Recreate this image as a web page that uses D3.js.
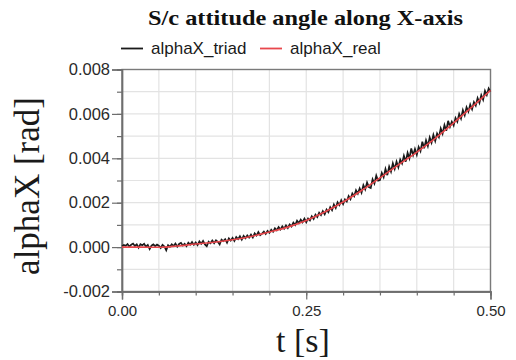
<!DOCTYPE html>
<html>
<head>
<meta charset="utf-8">
<script src="https://cdn.jsdelivr.net/npm/d3@7"></script>
<style>
  html, body { margin: 0; padding: 0; background: #fff; }
  svg { display: block; }
</style>
</head>
<body>
<svg id="chart" width="516" height="360"></svg>
<script>
// ---- data ----
const chartTitle = "S/c attitude angle along X-axis";
const xTitle = "t [s]";
const yTitle = "alphaX [rad]";
const seriesNames = ["alphaX_triad", "alphaX_real"];

const xTickValues = [0, 0.25, 0.5];
const xTickLabels = ["0.00", "0.25", "0.50"];
const yTickValues = [-0.002, 0, 0.002, 0.004, 0.006, 0.008];
const yTickLabels = ["-0.002", "0.000", "0.002", "0.004", "0.006", "0.008"];

// alphaX_real sampled every 0.025 s
const realT = [0, 0.025, 0.05, 0.075, 0.1, 0.125, 0.15, 0.175, 0.2, 0.225, 0.25,
  0.275, 0.3, 0.325, 0.35, 0.375, 0.4, 0.425, 0.45, 0.475, 0.5];
const realV = [0, 0, -0.00001, 0.00005, 0.00014, 0.00022, 0.00033, 0.00048, 0.00068, 0.00090, 0.00120,
  0.00158, 0.00203, 0.00255, 0.00312, 0.00370, 0.00428, 0.00490, 0.00560, 0.00632, 0.00706];

// alphaX_triad, one sample every 0.0025 s, values in units of 1e-4 rad
const triadStep = 0.0025;
const triadUnit = 1e-4;
const triadV = [
  0.3, 1.0, 0.6, 1.4, 0.2, 1.1, 1.6, 0.5, 1.2, -0.3,
  1.3, 0.8, 1.5, 0.2, 1.0, -0.9, 0.7, 1.2, 0.4, 1.1,
  0.6, -0.4, 1.0, 0.3, -1.4, 0.9, 0.2, 1.3, 0.5, 1.6,
  0.2, 1.4, 1.9, 0.7, 1.5, 0.4, 2.0, 1.1, 2.3, 1.0,
  2.1, 0.9, 2.6, 1.5, 2.8, 1.2, 0.4, 2.4, 1.7, 3.0,
  1.8, 3.1, 2.4, 1.2, 3.4, 2.7, 3.6, 2.0, 3.9, 2.9,
  4.2, 2.8, 4.5, 3.6, 4.9, 3.4, 5.1, 4.0, 5.3, 4.3,
  5.6, 4.3, 6.2, 5.2, 6.8, 5.4, 6.1, 7.0, 5.9, 7.3,
  6.4, 7.8, 6.9, 8.5, 7.6, 9.0, 7.9, 9.4, 8.3, 9.8,
  8.6, 10.2, 9.3, 11.0, 9.9, 11.9, 10.8, 12.4, 11.2, 12.8,
  11.2, 12.9, 12.0, 13.9, 12.7, 14.6, 13.5, 15.5, 14.4, 16.2,
  14.8, 16.9, 15.7, 18.0, 16.6, 19.2, 17.6, 20.2, 18.9, 21.1,
  19.4, 21.5, 20.5, 23.0, 21.6, 24.2, 22.9, 25.6, 24.1, 26.5,
  24.5, 27.9, 26.0, 29.1, 27.0, 26.6, 30.5, 28.6, 32.2, 29.9,
  30.2, 33.4, 31.5, 35.2, 32.4, 36.3, 34.0, 37.8, 35.2, 38.5,
  35.9, 39.4, 37.7, 41.2, 38.5, 42.5, 40.0, 44.4, 41.4, 44.2,
  41.6, 45.1, 43.2, 47.5, 44.5, 48.1, 45.5, 49.4, 47.0, 50.6,
  47.8, 51.2, 49.5, 53.5, 51.1, 55.0, 52.4, 56.9, 54.2, 56.5,
  54.8, 58.2, 56.5, 60.0, 57.9, 61.7, 59.4, 63.0, 61.0, 64.2,
  62.1, 65.3, 63.7, 67.1, 65.0, 68.5, 66.4, 70.4, 68.5, 71.5,
  70.0];

// ---- layout ----
const svg = d3.select("#chart");
const plot = { left: 122, right: 490.5, top: 69.5, bottom: 291.5 };

const x = d3.scaleLinear().domain([0, 0.5]).range([plot.left, plot.right]);
const y = d3.scaleLinear().domain([-0.002, 0.008]).range([plot.bottom, plot.top]);

const gridX = d3.range(0, 11).map(i => i * 0.05);
const gridY = d3.range(-2, 9).map(i => i * 0.001);

// grid
svg.append("g").selectAll("line").data(gridX).join("line")
  .attr("x1", d => x(d)).attr("x2", d => x(d))
  .attr("y1", plot.top).attr("y2", plot.bottom)
  .attr("stroke", "#e3e3e3").attr("stroke-width", 1.2);
svg.append("g").selectAll("line").data(gridY).join("line")
  .attr("x1", plot.left).attr("x2", plot.right)
  .attr("y1", d => y(d)).attr("y2", d => y(d))
  .attr("stroke", "#e3e3e3").attr("stroke-width", 1.2);

// frame
svg.append("rect")
  .attr("x", plot.left).attr("y", plot.top)
  .attr("width", plot.right - plot.left).attr("height", plot.bottom - plot.top)
  .attr("fill", "none").attr("stroke", "#7a7a7a").attr("stroke-width", 1.4);

// axes
const axisColor = "#6e6e6e";
const xMinor = svg.append("g").attr("transform", `translate(0,${plot.bottom})`)
  .call(d3.axisBottom(x).tickValues(gridX).tickSize(4).tickFormat(""));
const xMajor = svg.append("g").attr("transform", `translate(0,${plot.bottom})`)
  .call(d3.axisBottom(x).tickValues(xTickValues).tickSize(8).tickPadding(6)
    .tickFormat((d, i) => xTickLabels[i]));
const yMinor = svg.append("g").attr("transform", `translate(${plot.left},0)`)
  .call(d3.axisLeft(y).tickValues(gridY).tickSize(5).tickFormat(""));
const yMajor = svg.append("g").attr("transform", `translate(${plot.left},0)`)
  .call(d3.axisLeft(y).tickValues(yTickValues).tickSize(10).tickPadding(2)
    .tickFormat((d, i) => yTickLabels[i]));

[xMinor, xMajor, yMinor, yMajor].forEach(g => {
  g.select(".domain").attr("stroke", axisColor).attr("stroke-width", 1.4);
  g.selectAll(".tick line").attr("stroke", axisColor).attr("stroke-width", 1.2);
  g.selectAll("text").attr("fill", "#2a2a2a")
    .attr("font-family", "'Liberation Sans', Arial, sans-serif");
});
xMajor.selectAll("text").attr("font-size", 15);
yMajor.selectAll("text").attr("font-size", 16.5);

// lines
const triad = triadV.map((v, i) => [i * triadStep, v * triadUnit]);
const real = realT.map((t, i) => [t, realV[i]]);
const lineGen = d3.line().x(d => x(d[0])).y(d => y(d[1]));
const smoothGen = d3.line().x(d => x(d[0])).y(d => y(d[1])).curve(d3.curveMonotoneX);

svg.append("path").datum(triad).attr("d", lineGen)
  .attr("fill", "none").attr("stroke", "#1a1a1a").attr("stroke-width", 1.7)
  .attr("stroke-linejoin", "miter");
svg.append("path").datum(real).attr("d", smoothGen)
  .attr("fill", "none").attr("stroke", "#e8474c").attr("stroke-width", 1.6);

// title
svg.append("text").attr("x", 305.5).attr("y", 25)
  .attr("text-anchor", "middle")
  .attr("font-family", "'Liberation Serif', 'Times New Roman', serif")
  .attr("font-weight", "bold").attr("font-size", 21)
  .attr("textLength", 315).attr("lengthAdjust", "spacingAndGlyphs")
  .attr("fill", "#111")
  .text(chartTitle);

// legend
const legendColors = ["#1a1a1a", "#e8474c"];
const legendPos = [{ lx: 121, tx: 151 }, { lx: 260, tx: 290 }];
seriesNames.forEach((name, i) => {
  svg.append("line")
    .attr("x1", legendPos[i].lx).attr("x2", legendPos[i].lx + 22)
    .attr("y1", 48.5).attr("y2", 48.5)
    .attr("stroke", legendColors[i]).attr("stroke-width", 1.8);
  svg.append("text").attr("x", legendPos[i].tx).attr("y", 54)
    .attr("font-family", "'Liberation Sans', Arial, sans-serif")
    .attr("font-size", 17).attr("fill", "#1a1a1a")
    .text(name);
});

// axis titles
svg.append("text").attr("x", 303).attr("y", 352)
  .attr("text-anchor", "middle")
  .attr("font-family", "'Liberation Serif', 'Times New Roman', serif")
  .attr("font-size", 34).attr("fill", "#1a1a1a")
  .text(xTitle);
svg.append("text")
  .attr("transform", "translate(39,186) rotate(-90)")
  .attr("text-anchor", "middle")
  .attr("font-family", "'Liberation Serif', 'Times New Roman', serif")
  .attr("font-size", 35).attr("fill", "#1a1a1a")
  .text(yTitle);
</script>
</body>
</html>
